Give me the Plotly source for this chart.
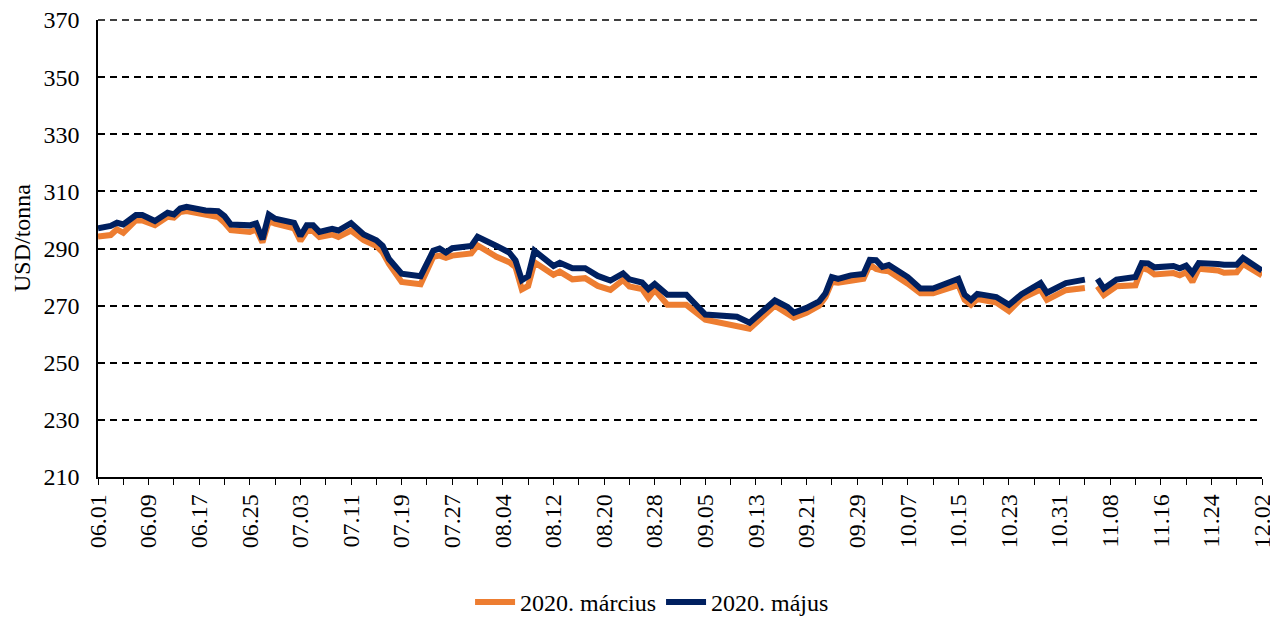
import plotly.graph_objects as go

dates = [
    "2020-06-01", "2020-06-03", "2020-06-04", "2020-06-05", "2020-06-07", "2020-06-08",
    "2020-06-10", "2020-06-12", "2020-06-13", "2020-06-14", "2020-06-15", "2020-06-18",
    "2020-06-20", "2020-06-21", "2020-06-22", "2020-06-25", "2020-06-26", "2020-06-27",
    "2020-06-28", "2020-06-29", "2020-07-02", "2020-07-03", "2020-07-04", "2020-07-05",
    "2020-07-06", "2020-07-08", "2020-07-09", "2020-07-11", "2020-07-13", "2020-07-15",
    "2020-07-16", "2020-07-17", "2020-07-19", "2020-07-22", "2020-07-24", "2020-07-25",
    "2020-07-26", "2020-07-27", "2020-07-30", "2020-07-31", "2020-08-03", "2020-08-05",
    "2020-08-06", "2020-08-07", "2020-08-08", "2020-08-09", "2020-08-12", "2020-08-13",
    "2020-08-15", "2020-08-17", "2020-08-19", "2020-08-21", "2020-08-23", "2020-08-24",
    "2020-08-26", "2020-08-27", "2020-08-28", "2020-08-30", "2020-09-02", "2020-09-05",
    "2020-09-10", "2020-09-12", "2020-09-16", "2020-09-18", "2020-09-19", "2020-09-21",
    "2020-09-23", "2020-09-24", "2020-09-25", "2020-09-26", "2020-09-28", "2020-09-30",
    "2020-10-01", "2020-10-02", "2020-10-03", "2020-10-04", "2020-10-07", "2020-10-09",
    "2020-10-11", "2020-10-14", "2020-10-15", "2020-10-16", "2020-10-17", "2020-10-18",
    "2020-10-21", "2020-10-23", "2020-10-25", "2020-10-28", "2020-10-29", "2020-11-01",
    "2020-11-04", "2020-11-05", "2020-11-06", "2020-11-07", "2020-11-09", "2020-11-12",
    "2020-11-13", "2020-11-14", "2020-11-15", "2020-11-18", "2020-11-19", "2020-11-20",
    "2020-11-21", "2020-11-22", "2020-11-25", "2020-11-26", "2020-11-28", "2020-11-29",
    "2020-12-02",
]

majus = [
    297.1, 297.9, 299.0, 298.4, 301.7, 301.7,
    299.6, 302.5, 301.9, 304.0, 304.6, 303.3,
    303.1, 301.3, 298.4, 298.1, 298.8, 293.2,
    301.9, 300.4, 299.0, 294.4, 298.1, 298.1,
    295.8, 296.9, 296.3, 298.9, 294.9, 292.9,
    290.9, 286.3, 281.2, 280.3, 289.2, 290.0,
    288.6, 290.1, 290.9, 294.1, 290.9, 288.6,
    285.8, 278.9, 280.3, 289.2, 283.9, 285.0,
    283.1, 283.1, 280.4, 278.8, 281.3, 279.2,
    278.1, 275.8, 277.6, 273.8, 273.8, 266.9,
    266.1, 264.0, 271.8, 269.5, 267.5, 269.2,
    271.5, 274.3, 280.0, 279.4, 280.6, 281.1,
    286.0, 285.9, 283.6, 284.2, 280.0, 276.0,
    276.0, 278.3, 279.4, 273.8, 272.0, 274.1,
    273.0, 270.3, 274.0, 277.9, 274.5, 277.9,
    279.1, None, 279.4, 276.0, 279.1, 280.0,
    284.9, 284.8, 283.4, 283.9, 283.1, 284.0,
    281.4, 284.9, 284.6, 284.3, 284.3, 286.7,
    282.3,
]

marcius = [
    294.2, 294.7, 296.7, 295.5, 299.9, 299.8,
    298.2, 301.1, 300.8, 302.8, 303.1, 302.1,
    301.0, 299.0, 296.4, 295.8, 296.7, 292.1,
    299.6, 298.7, 297.1, 292.7, 296.1, 296.1,
    294.0, 294.9, 294.0, 296.3, 292.9, 290.9,
    288.6, 284.6, 278.3, 277.5, 287.1, 287.5,
    286.7, 287.5, 288.3, 291.1, 287.1, 285.2,
    283.5, 275.7, 276.9, 285.2, 280.8, 281.9,
    279.2, 279.6, 276.9, 275.5, 279.0, 276.7,
    275.8, 272.7, 275.5, 270.3, 270.3, 265.1,
    262.6, 261.9, 270.0, 267.0, 265.8, 267.5,
    270.0, 273.0, 278.3, 278.0, 278.9, 279.4,
    284.3, 282.8, 282.3, 282.0, 277.7, 274.3,
    274.3, 276.8, 277.2, 272.0, 270.3, 272.3,
    271.1, 268.1, 272.5, 275.6, 272.0, 275.4,
    276.2, None, 276.8, 273.7, 276.8, 277.1,
    283.2, 282.5, 280.9, 281.4, 280.6, 281.7,
    278.3, 282.9, 282.3, 281.5, 281.7, 284.6,
    280.6,
]

series_names = ["2020. március", "2020. május"]
series_colors = ["#ED7D31", "#002060"]
y_title = "USD/tonna"
y_min, y_max, y_step = 210, 370, 20

FONT = "Liberation Serif, Times New Roman, serif"
FS = 24

# The page body has an 8px default margin, so the figure is sized to fit the
# 1278x619 window once that offset is accounted for.
fig = go.Figure()
for name, vals, color in zip(series_names, [marcius, majus], series_colors):
    fig.add_trace(go.Scatter(
        x=dates, y=vals, name=name, mode="lines",
        line=dict(color=color, width=6),
        connectgaps=False,
    ))

fig.update_layout(
    width=1270, height=611,
    margin=dict(l=90, r=16, t=12, b=142, autoexpand=False),
    paper_bgcolor="white", plot_bgcolor="white",
    font=dict(family=FONT, size=FS, color="black"),
    showlegend=True,
    legend=dict(
        orientation="h", x=0.476, xanchor="center",
        yref="container", y=0.027, yanchor="middle",
        font=dict(family=FONT, size=FS, color="black"),
        itemwidth=40, tracegroupgap=0,
    ),
    annotations=[dict(
        text=y_title, textangle=-90, xref="paper", yref="paper",
        x=-0.0653, y=0.523, xanchor="center", yanchor="middle",
        showarrow=False, font=dict(family=FONT, size=FS, color="black"),
    )],
    shapes=[dict(
        type="line", xref="paper", yref="paper", x0=0, x1=1, y0=1, y1=1,
        line=dict(color="black", width=1.6, dash="7px,5px"), layer="below",
    )],
)

fig.update_xaxes(
    type="date", automargin=False,
    range=["2020-06-01", "2020-12-02"],
    tick0="2020-06-01", dtick=8 * 86400000,
    tickformat="%m.%d", tickangle=-90,
    ticks="outside", ticklen=6, tickwidth=1.3, tickcolor="black",
    minor=dict(dtick=4 * 86400000, tick0="2020-06-01", ticks="outside",
               ticklen=6, tickwidth=1.3, tickcolor="black", showgrid=False),
    showline=True, linecolor="black", linewidth=1.5,
    showgrid=False, zeroline=False, ticklabeloverflow="allow",
    tickfont=dict(family=FONT, size=FS, color="black"),
)

fig.update_yaxes(
    automargin=False,
    range=[y_min, y_max], dtick=y_step, tick0=y_min,
    showline=True, linecolor="black", linewidth=1.5,
    showgrid=True, gridcolor="black", gridwidth=1.6, griddash="7px,5px",
    zeroline=False, ticklabeloverflow="allow",
    ticks="outside", ticklen=12, tickcolor="rgba(0,0,0,0)",
    tickfont=dict(family=FONT, size=FS, color="black"),
)

fig.write_html("out.html")
